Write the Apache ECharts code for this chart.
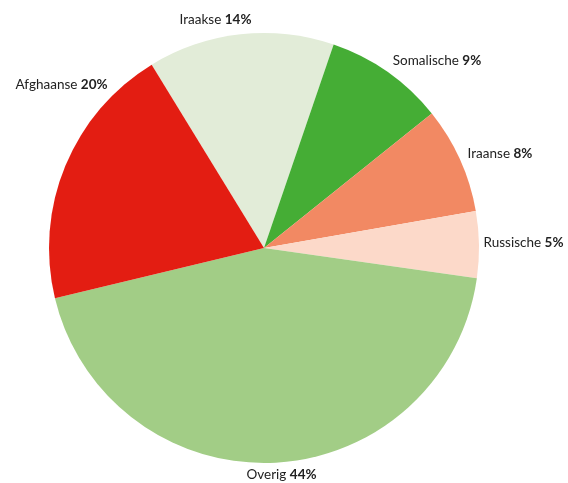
<!DOCTYPE html>
<html><head><meta charset="utf-8">
<script src="https://cdn.jsdelivr.net/npm/echarts@6/dist/echarts.min.js"></script>
<style>html,body{margin:0;padding:0;background:#fff}#c{width:568px;height:483px}</style>
</head><body><div id="c"></div>
<script>
const categories = ['Iraakse', 'Somalische', 'Iraanse', 'Russische', 'Overig', 'Afghaanse'];
const values = [14, 9, 8, 5, 44, 20];
const colors = ['#e2ecd8', '#45ad35', '#f28963', '#fcd9c9', '#a2cd86', '#e31d12'];
// label anchor (centre of text) positions, layout only
const labelAnchors = {
  Iraakse: [215.5, 20], Somalische: [437, 61], Iraanse: [500, 154],
  Russische: [523.5, 243], Overig: [281.5, 475], Afghaanse: [61.5, 85]
};

const chart = echarts.init(document.getElementById('c'), null, {renderer: 'canvas'});
chart.setOption({
  animation: false,
  series: [{
    type: 'pie',
    center: [264, 248],
    radius: 215,
    startAngle: 121.5,
    clockwise: true,
    data: categories.map((n, i) => ({name: n, value: values[i], itemStyle: {color: colors[i]}})),
    label: {
      show: true,
      position: 'outside',
      formatter: p => p.name + ' {b|' + p.value + '%}',
      fontFamily: 'Lato',
      fontSize: 13.5,
      color: '#222',
      overflow: 'none',
      rich: {b: {fontFamily: 'Lato', fontSize: 13.5, fontWeight: 'bold', color: '#222'}}
    },
    labelLine: {show: false, length: 6, length2: 0},
    labelLayout: function (params) {
      const a = labelAnchors[categories[params.dataIndex]];
      return {x: a[0], y: a[1], align: 'center', verticalAlign: 'middle'};
    },
    emphasis: {disabled: true}
  }]
});
</script></body></html>
